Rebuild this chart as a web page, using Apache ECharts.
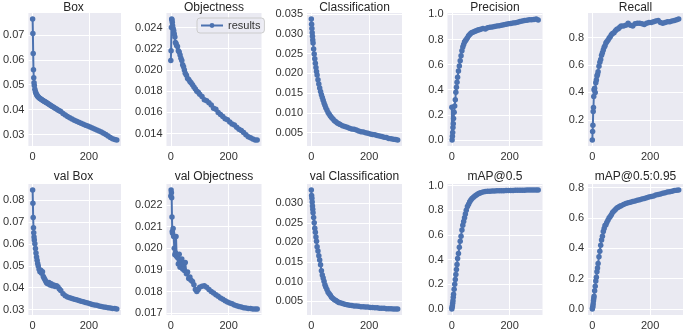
<!DOCTYPE html>
<html><head><meta charset="utf-8">
<script src="https://cdn.jsdelivr.net/npm/echarts@6/dist/echarts.min.js"></script>
<style>html,body{margin:0;padding:0;background:#fff}#c{width:685px;height:331px}</style>
</head><body><div id="c"></div>
<script>
const epochs = [0,1,2,3,4,5,6,8,10,12,14,16,18,20,23,26,29,32,35,38,41,44,47,50,54,58,62,66,70,75,80,85,90,95,100,108,116,124,132,140,148,156,164,172,180,188,196,204,212,220,228,236,244,252,260,268,276,284,292,299];
const titles = ['Box','Objectness','Classification','Precision','Recall','val Box','val Objectness','val Classification','mAP@0.5','mAP@0.5:0.95'];
const xTicks = [0,200];
const boxLoss = [0.0763,0.0705,0.0625,0.0560,0.0528,0.0508,0.0497,0.0482,0.0472,0.0466,0.0461,0.0457,0.0454,0.0451,0.0448,0.0445,0.0443,0.0441,0.0438,0.0436,0.0434,0.0432,0.0430,0.0428,0.0425,0.0422,0.0419,0.0416,0.0413,0.0410,0.0406,0.0403,0.0399,0.0396,0.0393,0.0385,0.0379,0.0373,0.0368,0.0363,0.0358,0.0354,0.0350,0.0346,0.0342,0.0338,0.0335,0.0331,0.0327,0.0323,0.0319,0.0315,0.0311,0.0306,0.0301,0.0295,0.0289,0.0284,0.0281,0.0279];
const objLoss = [0.0209,0.0218,0.0240,0.0248,0.0247,0.0245,0.0242,0.0239,0.0237,0.0234,0.0231,0.0226,0.0225,0.0223,0.0222,0.0218,0.0217,0.0214,0.0211,0.0209,0.0205,0.0203,0.0200,0.0197,0.0195,0.0192,0.0191,0.0189,0.0188,0.0186,0.0184,0.0182,0.0180,0.0179,0.0177,0.0175,0.0172,0.0171,0.0169,0.0167,0.0164,0.0163,0.0160,0.0158,0.0156,0.0154,0.0153,0.0151,0.0149,0.0148,0.0146,0.0144,0.0143,0.0141,0.0139,0.0137,0.0136,0.0135,0.0134,0.0134];
const clsLoss = [0.0338,0.0325,0.0314,0.0303,0.0294,0.0285,0.0277,0.0262,0.0249,0.0237,0.0226,0.0215,0.0205,0.0196,0.0184,0.0173,0.0163,0.0154,0.0146,0.0139,0.0132,0.0125,0.0119,0.0113,0.0107,0.0101,0.0096,0.0092,0.0088,0.0084,0.0080,0.0077,0.0074,0.0072,0.0070,0.0067,0.0065,0.0063,0.0061,0.0059,0.0058,0.0056,0.0054,0.0052,0.0051,0.0049,0.0048,0.0046,0.0045,0.0044,0.0042,0.0041,0.0040,0.0038,0.0037,0.0035,0.0034,0.0033,0.0032,0.0031];
const precision = [0.26,0.0,0.03,0.06,0.10,0.13,0.17,0.22,0.27,0.32,0.38,0.42,0.46,0.50,0.55,0.59,0.63,0.67,0.71,0.74,0.76,0.78,0.79,0.80,0.815,0.83,0.84,0.85,0.855,0.86,0.865,0.87,0.875,0.878,0.882,0.888,0.884,0.893,0.897,0.90,0.903,0.908,0.91,0.914,0.918,0.922,0.926,0.928,0.932,0.934,0.938,0.943,0.948,0.952,0.954,0.957,0.958,0.96,0.963,0.955];
const recall = [0.053,0.115,0.16,0.26,0.29,0.37,0.42,0.43,0.40,0.47,0.49,0.52,0.53,0.55,0.59,0.62,0.64,0.67,0.69,0.71,0.73,0.74,0.76,0.77,0.78,0.795,0.805,0.82,0.83,0.835,0.85,0.86,0.865,0.875,0.885,0.885,0.89,0.905,0.89,0.885,0.90,0.905,0.905,0.90,0.895,0.905,0.91,0.91,0.915,0.92,0.925,0.91,0.905,0.91,0.915,0.915,0.92,0.925,0.93,0.935];
const valBox = [0.0845,0.0785,0.0720,0.0673,0.0650,0.0631,0.0617,0.0600,0.0578,0.0558,0.0540,0.0525,0.0510,0.0499,0.0484,0.0473,0.0480,0.0466,0.0473,0.0451,0.0443,0.0436,0.0428,0.0421,0.0418,0.0424,0.0413,0.0418,0.0409,0.0413,0.0406,0.0409,0.0403,0.0394,0.0387,0.0373,0.0364,0.0358,0.0354,0.0351,0.0348,0.0345,0.0342,0.0339,0.0336,0.0333,0.0330,0.0327,0.0324,0.0321,0.0320,0.0317,0.0315,0.0312,0.0311,0.0309,0.0308,0.0306,0.0305,0.0303];
const valObj = [0.02242,0.02270,0.02257,0.02234,0.02145,0.02078,0.02070,0.02092,0.02055,0.02000,0.01970,0.01980,0.02055,0.01963,0.01958,0.01927,0.01973,0.01912,0.01942,0.01950,0.01904,0.01927,0.01897,0.01934,0.01882,0.01890,0.01860,0.01867,0.01852,0.01846,0.01831,0.01810,0.01800,0.01810,0.01820,0.01824,0.01827,0.01820,0.01810,0.01800,0.01793,0.01785,0.01778,0.01770,0.01764,0.01757,0.01752,0.01747,0.01743,0.01738,0.01734,0.01731,0.01728,0.01725,0.01724,0.01722,0.01721,0.01719,0.01719,0.01719];
const valCls = [0.0334,0.0320,0.0313,0.0303,0.0293,0.0285,0.0276,0.0264,0.0250,0.0236,0.0226,0.0214,0.0203,0.0189,0.0178,0.0166,0.0155,0.0143,0.0128,0.0117,0.0109,0.0101,0.0092,0.0086,0.0080,0.0073,0.0069,0.0065,0.0060,0.0057,0.0054,0.0052,0.0049,0.0047,0.0046,0.0044,0.0042,0.0041,0.0040,0.0039,0.0038,0.0038,0.0037,0.0036,0.0036,0.0035,0.0035,0.0034,0.0034,0.0033,0.0033,0.0032,0.0032,0.0032,0.0031,0.0031,0.0031,0.0030,0.0030,0.0030];
const map50 = [0.0,0.014,0.027,0.046,0.068,0.095,0.12,0.16,0.20,0.24,0.28,0.32,0.36,0.41,0.45,0.50,0.55,0.59,0.64,0.68,0.71,0.74,0.77,0.80,0.83,0.85,0.87,0.884,0.895,0.905,0.916,0.924,0.932,0.938,0.943,0.949,0.952,0.954,0.955,0.956,0.957,0.958,0.958,0.959,0.959,0.960,0.960,0.961,0.961,0.962,0.962,0.962,0.963,0.963,0.964,0.964,0.964,0.965,0.965,0.965];
const map5095 = [0.0,0.01,0.02,0.035,0.055,0.07,0.085,0.12,0.15,0.185,0.21,0.245,0.27,0.30,0.345,0.38,0.42,0.455,0.48,0.51,0.53,0.55,0.555,0.57,0.585,0.60,0.61,0.62,0.635,0.645,0.655,0.665,0.67,0.677,0.68,0.688,0.695,0.70,0.703,0.708,0.712,0.716,0.72,0.724,0.728,0.733,0.737,0.741,0.745,0.75,0.754,0.758,0.762,0.766,0.77,0.773,0.776,0.78,0.782,0.784];
const tickDecimals = [2,3,3,1,1,2,3,3,1,1];
const ySplits = [5,6,7,5,5,5,5,7,5,5];

const seriesVals = [boxLoss,objLoss,clsLoss,precision,recall,valBox,valObj,valCls,map50,map5095];
const lefts = [26,166.5,307,447.5,588];
const W = 95, H = 133, tops = [13,184], titleTops = [2,171];
const BG = '#EAEAF2', LINE = '#4C72B0', TXT = '#333';
const FONT = 'Liberation Sans, Arial, sans-serif';

const grid = [], xAxis = [], yAxis = [], series = [], title = [];
const xMin = epochs[0] - 0.05*(epochs[epochs.length-1]-epochs[0]);
const xMax = epochs[epochs.length-1] + 0.05*(epochs[epochs.length-1]-epochs[0]);
seriesVals.forEach((vals,i)=>{
  const r = Math.floor(i/5), c = i%5;
  grid.push({left:lefts[c], top:tops[r], width:W, height:H, show:true, backgroundColor:BG, borderWidth:0, containLabel:false});
  const lo = Math.min(...vals), hi = Math.max(...vals), m = 0.05*(hi-lo);
  const dec = tickDecimals[i];
  xAxis.push({type:'value', gridIndex:i, min:xMin, max:xMax, splitNumber:2,
    axisLine:{show:false}, axisTick:{show:false},
    axisLabel:{show:true, showMinLabel:false, showMaxLabel:false, color:TXT, fontSize:11, fontFamily:FONT, margin:5,
      formatter:v=> xTicks.includes(Math.round(v)) ? String(Math.round(v)) : ''},
    splitLine:{show:true, showMinLine:false, showMaxLine:false, lineStyle:{color:'#fff', width:1}}});
  yAxis.push({type:'value', gridIndex:i, min:lo-m, max:hi+m, splitNumber:ySplits[i], scale:true,
    axisLine:{show:false}, axisTick:{show:false},
    axisLabel:{show:true, showMinLabel:false, showMaxLabel:false, color:TXT, fontSize:11, fontFamily:FONT, margin:4,
      formatter:v=>v.toFixed(dec)},
    splitLine:{show:true, showMinLine:false, showMaxLine:false, lineStyle:{color:'#fff', width:1}}});
  series.push({type:'line', name:'results', xAxisIndex:i, yAxisIndex:i,
    data: epochs.map((e,j)=>[e, vals[j]]),
    symbol:'circle', symbolSize:5.5, showSymbol:true,
    itemStyle:{color:LINE}, lineStyle:{color:LINE, width:2}, clip:false});
  title.push({text:titles[i], left:lefts[c]+W/2, top:titleTops[r], textAlign:'center', padding:0,
    textStyle:{fontSize:12, fontWeight:'normal', color:'#262626', fontFamily:FONT}});
});

const chart = echarts.init(document.getElementById('c'), null, {renderer:'canvas'});
chart.setOption({
  animation:false,
  backgroundColor:'#fff',
  title, grid, xAxis, yAxis, series,
  legend:{data:['results'], left:197, top:18, orient:'vertical',
    backgroundColor:'rgba(234,234,242,0.8)', borderColor:'#cccccc', borderWidth:1, borderRadius:3,
    padding:[2,4,2,3], itemWidth:22, itemHeight:6,
    textStyle:{fontSize:11, color:TXT, fontFamily:FONT}}
});
</script></body></html>
